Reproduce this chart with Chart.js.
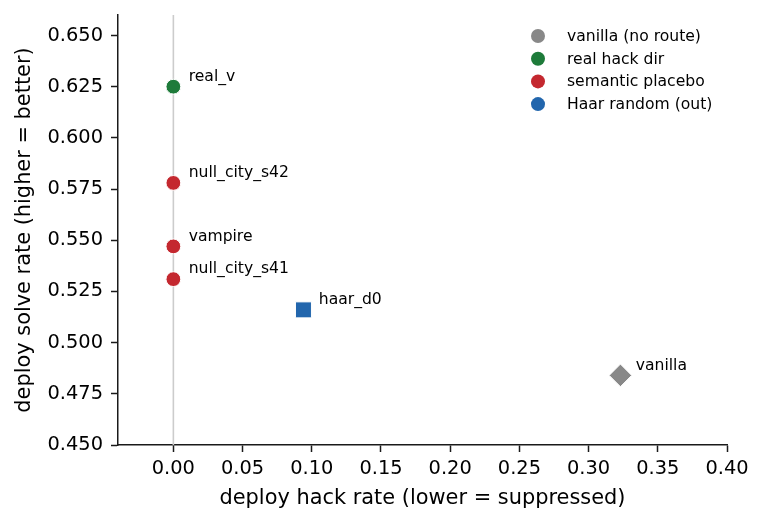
<!DOCTYPE html>
<html>
<head>
<meta charset="utf-8">
<title>deploy hack vs solve rate</title>
<script src="https://cdn.jsdelivr.net/npm/chart.js"></script>
<style>
  body {
    margin: 0;
    padding: 0;
    background: #fff;
    overflow: hidden;
  }
  .wrap {
    width: 764px;
    height: 523px;
  }
</style>
</head>
<body>
<div class="wrap">
  <canvas id="chart"></canvas>
</div>
<script>
// values
const groupNames = ['vanilla (no route)', 'real hack dir', 'semantic placebo', 'Haar random (out)'];
const groupColors = ['#888888', '#1e7b3a', '#c4282f', '#2266ad'];
const groupMarkers = ['rectRot', 'circle', 'circle', 'rect'];

const pointNames = ['vanilla', 'real_v', 'null_city_s42', 'vampire', 'null_city_s41', 'haar_d0'];
const hackRate = [0.323, 0, 0, 0, 0, 0.094];
const solveRate = [0.484, 0.625, 0.578, 0.547, 0.531, 0.516];
const pointGroup = [0, 1, 2, 2, 2, 3];

const xTickValues = [0, 0.05, 0.1, 0.15, 0.2, 0.25, 0.3, 0.35, 0.4];
const xTickLabels = ['0.00', '0.05', '0.10', '0.15', '0.20', '0.25', '0.30', '0.35', '0.40'];
const yTickValues = [0.45, 0.475, 0.5, 0.525, 0.55, 0.575, 0.6, 0.625, 0.65];
const yTickLabels = ['0.450', '0.475', '0.500', '0.525', '0.550', '0.575', '0.600', '0.625', '0.650'];

const ink = '#1a1a1a';
const font = 'DejaVu Sans';

const datasets = groupNames.map((name, g) => {
  const idx = pointGroup.map((pg, i) => (pg === g ? i : -1)).filter((i) => i >= 0);
  const marker = groupMarkers[g];
  return {
    label: name,
    data: idx.map((i) => ({ x: hackRate[i], y: solveRate[i], name: pointNames[i] })),
    backgroundColor: groupColors[g],
    borderColor: '#ffffff',
    borderWidth: 1,
    pointStyle: marker,
    pointRadius: marker === 'circle' ? 7.4 : 11.3,
  };
});

// light vertical reference line at zero hack rate
const zeroLine = {
  id: 'zeroLine',
  beforeDatasetsDraw(chart) {
    const { ctx, chartArea, scales } = chart;
    const x = scales.x.getPixelForValue(0);
    ctx.save();
    ctx.strokeStyle = '#cccccc';
    ctx.lineWidth = 1.6;
    ctx.beginPath();
    ctx.moveTo(x, chartArea.top);
    ctx.lineTo(x, chartArea.bottom);
    ctx.stroke();
    ctx.restore();
  },
};

// name next to every point
const pointLabels = {
  id: 'pointLabels',
  afterDatasetsDraw(chart) {
    const { ctx } = chart;
    ctx.save();
    ctx.font = '15.6px "' + font + '"';
    ctx.fillStyle = '#000';
    ctx.textAlign = 'left';
    ctx.textBaseline = 'alphabetic';
    chart.data.datasets.forEach((ds, di) => {
      chart.getDatasetMeta(di).data.forEach((pt, j) => {
        ctx.fillText(ds.data[j].name, pt.x + 15.3, pt.y - 5.8);
      });
    });
    ctx.restore();
  },
};

// legend in the upper right, circles for every group
const cornerLegend = {
  id: 'cornerLegend',
  afterDraw(chart) {
    const { ctx, chartArea } = chart;
    const mx = chartArea.right - 189;
    const tx = chartArea.right - 160;
    let y = chartArea.top + 21;
    ctx.save();
    ctx.font = '15.6px "' + font + '"';
    ctx.textBaseline = 'middle';
    ctx.textAlign = 'left';
    groupNames.forEach((name, g) => {
      ctx.fillStyle = groupColors[g];
      ctx.beginPath();
      ctx.arc(mx, y, 7, 0, Math.PI * 2);
      ctx.fill();
      ctx.fillStyle = '#000';
      ctx.fillText(name, tx, y + 1);
      y += 22.7;
    });
    ctx.restore();
  },
};

new Chart(document.getElementById('chart'), {
  type: 'scatter',
  data: { datasets },
  plugins: [zeroLine, pointLabels, cornerLegend],
  options: {
    responsive: true,
    maintainAspectRatio: false,
    animation: false,
    events: [],
    layout: {
      padding: { left: 0, right: 37, top: 15, bottom: 0 },
    },
    plugins: {
      legend: { display: false },
      tooltip: { enabled: false },
    },
    scales: {
      x: {
        type: 'linear',
        min: -0.04,
        max: 0.4,
        afterBuildTicks: (s) => {
          s.ticks = xTickValues.map((v) => ({ value: v }));
        },
        afterFit: (s) => {
          s.height = 78;
          s.paddingLeft = 0;
          s.paddingRight = 0;
        },
        ticks: {
          callback: (v) => xTickLabels[xTickValues.indexOf(v)],
          color: '#000',
          font: { family: font, size: 19.4 },
          padding: 5,
          maxRotation: 0,
          autoSkip: false,
        },
        grid: {
          drawOnChartArea: false,
          drawTicks: true,
          tickLength: 7,
          tickColor: ink,
          tickWidth: 1.5,
        },
        border: { color: ink, width: 1.5 },
        title: {
          display: true,
          text: 'deploy hack rate (lower = suppressed)',
          color: '#000',
          font: { family: font, size: 20.9 },
          padding: { top: 0, bottom: 11.5 },
        },
      },
      y: {
        type: 'linear',
        min: 0.45,
        max: 0.66,
        afterBuildTicks: (s) => {
          s.ticks = yTickValues.map((v) => ({ value: v }));
        },
        afterFit: (s) => {
          s.width = 118;
          s.paddingTop = 0;
          s.paddingBottom = 0;
        },
        ticks: {
          callback: (v) => yTickLabels[yTickValues.indexOf(v)],
          color: '#000',
          font: { family: font, size: 19.4 },
          padding: 8,
          autoSkip: false,
        },
        grid: {
          drawOnChartArea: false,
          drawTicks: true,
          tickLength: 7,
          tickColor: ink,
          tickWidth: 1.5,
        },
        border: { color: ink, width: 1.5 },
        title: {
          display: true,
          text: 'deploy solve rate (higher = better)',
          color: '#000',
          font: { family: font, size: 20.9 },
          padding: { top: 12.5, bottom: 0 },
        },
      },
    },
  },
});
</script>
</body>
</html>
